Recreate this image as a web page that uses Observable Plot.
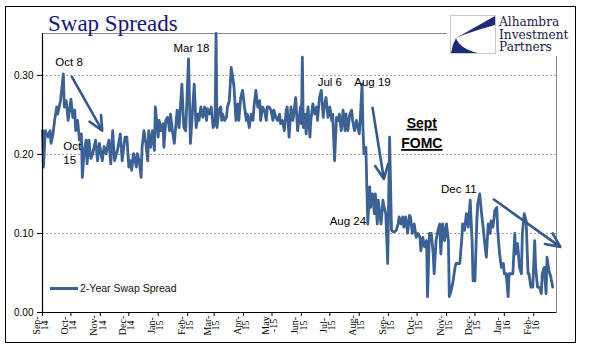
<!DOCTYPE html>
<html><head><meta charset="utf-8">
<script src="https://cdn.jsdelivr.net/npm/d3@7"></script>
<script src="https://cdn.jsdelivr.net/npm/@observablehq/plot@0.6"></script>
<style>
html,body{margin:0;padding:0;background:#fff;}
#wrap{position:relative;width:598px;height:361px;overflow:hidden;background:#fff;}
#chart{position:absolute;left:0;top:0;}
#frame{position:absolute;left:5px;top:6px;width:571px;height:337px;border:1.5px solid #000;box-sizing:border-box;pointer-events:none;}
#title{position:absolute;left:48px;top:12px;font-family:"Liberation Serif","Times New Roman",serif;font-size:23px;line-height:23px;color:#16167a;white-space:nowrap;}
#logo{position:absolute;left:447px;top:11px;width:128px;height:45px;background:#fff;}
#logotext{position:absolute;left:499px;top:16px;font-family:"DejaVu Serif",serif;font-size:12.2px;line-height:12.6px;color:#22224a;white-space:nowrap;}
#legend{position:absolute;left:50px;top:281px;height:14px;font-family:"Liberation Sans",Arial,sans-serif;font-size:10.5px;line-height:14px;color:#111;white-space:nowrap;}
#legend .sw{display:inline-block;width:28px;height:3px;vertical-align:middle;margin-right:2px;position:relative;top:-1px;}
</style></head>
<body>
<div id="wrap">
  <div id="chart"></div>
  <div id="title">Swap Spreads</div>
  <div id="logo"><svg width="128" height="45">
    <rect x="3.5" y="4.5" width="45" height="38" fill="#fff" stroke="#c9c9c9"/>
    <path d="M48 5 L9 27 Q 20 22 48 14 Z" fill="#1d2a78"/>
    <path d="M9 27 Q 5 34 4 42 L 31 42 Q 13 38 9 27 Z" fill="#1d2a78"/>
  </svg></div>
  <div id="logotext">Alhambra<br>Investment<br>Partners</div>
  <div id="legend"></div>
  <div id="frame"></div>
</div>
<script>
// ---- data ----
const seriesName = "2-Year Swap Spread";
const dates = [
"2014-09-01","2014-09-02","2014-09-04","2014-09-07","2014-09-09","2014-09-10","2014-09-12","2014-09-14","2014-09-16","2014-09-17",
"2014-09-20","2014-09-23","2014-09-24","2014-09-26","2014-09-28","2014-10-01","2014-10-03","2014-10-05","2014-10-06","2014-10-08",
"2014-10-10","2014-10-12","2014-10-13","2014-10-15","2014-10-17","2014-10-18","2014-10-20","2014-10-22","2014-10-24","2014-10-27",
"2014-10-29","2014-10-31","2014-11-03","2014-11-05","2014-11-07","2014-11-10","2014-11-12","2014-11-14","2014-11-16","2014-11-19",
"2014-11-22","2014-11-24","2014-11-27","2014-11-29","2014-12-01","2014-12-03","2014-12-04","2014-12-06","2014-12-09","2014-12-10",
"2014-12-12","2014-12-14","2014-12-15","2014-12-17","2014-12-19","2014-12-21","2014-12-22","2014-12-24","2014-12-26","2014-12-28",
"2014-12-29","2015-01-01","2015-01-02","2015-01-04","2015-01-06","2015-01-07","2015-01-09","2015-01-11","2015-01-13","2015-01-14",
"2015-01-16","2015-01-18","2015-01-20","2015-01-21","2015-01-23","2015-01-26","2015-01-28","2015-01-30","2015-02-02","2015-02-04",
"2015-02-06","2015-02-08","2015-02-10","2015-02-12","2015-02-13","2015-02-15","2015-02-17","2015-02-19","2015-02-21","2015-02-22",
"2015-02-24","2015-02-26","2015-02-28","2015-03-02","2015-03-03","2015-03-04","2015-03-06","2015-03-08","2015-03-09","2015-03-10",
"2015-03-12","2015-03-14","2015-03-15","2015-03-17","2015-03-19","2015-03-20","2015-03-22","2015-03-24","2015-03-26","2015-03-27",
"2015-03-29","2015-03-31","2015-04-02","2015-04-04","2015-04-05","2015-04-07","2015-04-09","2015-04-11","2015-04-12","2015-04-14",
"2015-04-16","2015-04-18","2015-04-19","2015-04-21","2015-04-23","2015-04-25","2015-04-26","2015-04-28","2015-04-30","2015-05-02",
"2015-05-03","2015-05-05","2015-05-07","2015-05-09","2015-05-10","2015-05-12","2015-05-14","2015-05-16","2015-05-17","2015-05-19",
"2015-05-21","2015-05-23","2015-05-24","2015-05-26","2015-05-28","2015-05-31","2015-06-01","2015-06-02","2015-06-03","2015-06-05",
"2015-06-06","2015-06-08","2015-06-10","2015-06-11","2015-06-13","2015-06-15","2015-06-17","2015-06-18","2015-06-20","2015-06-22",
"2015-06-24","2015-06-25","2015-06-27","2015-06-29","2015-07-01","2015-07-03","2015-07-04","2015-07-06","2015-07-08","2015-07-10",
"2015-07-11","2015-07-13","2015-07-15","2015-07-17","2015-07-18","2015-07-20","2015-07-22","2015-07-24","2015-07-25","2015-07-27",
"2015-07-29","2015-08-01","2015-08-02","2015-08-04","2015-08-05","2015-08-06","2015-08-08","2015-08-09","2015-08-10","2015-08-12",
"2015-08-13","2015-08-15","2015-08-17","2015-08-18","2015-08-20","2015-08-21","2015-08-24","2015-08-26","2015-08-27","2015-08-29",
"2015-08-31","2015-09-02","2015-09-04","2015-09-06","2015-09-07","2015-09-09","2015-09-11","2015-09-12","2015-09-14","2015-09-16",
"2015-09-17","2015-09-19","2015-09-21","2015-09-23","2015-09-24","2015-09-26","2015-09-28","2015-09-30","2015-10-02","2015-10-04",
"2015-10-05","2015-10-07","2015-10-09","2015-10-11","2015-10-12","2015-10-14","2015-10-16","2015-10-18","2015-10-19","2015-10-21",
"2015-10-23","2015-10-25","2015-10-26","2015-10-28","2015-10-30","2015-11-01","2015-11-03","2015-11-04","2015-11-06","2015-11-08",
"2015-11-10","2015-11-11","2015-11-13","2015-11-15","2015-11-17","2015-11-18","2015-11-20","2015-11-22","2015-11-24","2015-11-26",
"2015-11-28","2015-11-29","2015-12-01","2015-12-03","2015-12-04","2015-12-06","2015-12-08","2015-12-10","2015-12-11","2015-12-13",
"2015-12-15","2015-12-17","2015-12-18","2015-12-20","2015-12-22","2015-12-24","2015-12-25","2015-12-27","2015-12-29","2015-12-31",
"2016-01-01","2016-01-03","2016-01-05","2016-01-06","2016-01-08","2016-01-10","2016-01-12","2016-01-13","2016-01-15","2016-01-17",
"2016-01-19","2016-01-20","2016-01-22","2016-01-24","2016-01-26","2016-01-27","2016-01-29","2016-01-31","2016-02-02","2016-02-03",
"2016-02-05","2016-02-07","2016-02-09","2016-02-10","2016-02-12","2016-02-14","2016-02-15","2016-02-17","2016-02-19","2016-02-21"
];
const spreads = [
0.230,0.184,0.230,0.222,0.230,0.214,0.225,0.245,0.260,0.251,
0.268,0.302,0.260,0.268,0.243,0.270,0.247,0.256,0.230,0.243,
0.218,0.226,0.171,0.205,0.218,0.188,0.218,0.195,0.201,0.218,
0.192,0.214,0.192,0.210,0.201,0.218,0.188,0.230,0.192,0.205,
0.226,0.192,0.222,0.222,0.184,0.192,0.180,0.201,0.184,0.201,
0.192,0.171,0.209,0.230,0.214,0.192,0.230,0.209,0.230,0.205,
0.260,0.222,0.243,0.230,0.239,0.209,0.243,0.247,0.230,0.251,
0.230,0.214,0.243,0.256,0.234,0.289,0.234,0.230,0.321,0.214,
0.251,0.289,0.234,0.251,0.243,0.260,0.247,0.260,0.243,0.258,
0.251,0.260,0.234,0.240,0.353,0.234,0.256,0.260,0.243,0.251,
0.243,0.247,0.260,0.268,0.310,0.302,0.285,0.243,0.264,0.243,
0.272,0.281,0.260,0.243,0.251,0.234,0.251,0.243,0.260,0.281,
0.260,0.268,0.243,0.260,0.256,0.243,0.260,0.260,0.256,0.243,
0.256,0.247,0.243,0.251,0.239,0.243,0.230,0.256,0.260,0.222,
0.260,0.243,0.251,0.272,0.230,0.260,0.239,0.323,0.234,0.251,
0.226,0.260,0.222,0.243,0.264,0.251,0.260,0.243,0.272,0.281,
0.247,0.260,0.272,0.247,0.260,0.243,0.251,0.192,0.247,0.243,
0.251,0.230,0.256,0.230,0.251,0.230,0.251,0.256,0.243,0.230,
0.243,0.226,0.243,0.289,0.230,0.201,0.209,0.159,0.112,0.159,
0.133,0.150,0.125,0.150,0.112,0.142,0.112,0.142,0.134,0.125,
0.062,0.222,0.104,0.102,0.102,0.104,0.112,0.121,0.112,0.121,
0.108,0.121,0.100,0.123,0.121,0.100,0.112,0.095,0.100,0.095,
0.078,0.095,0.083,0.091,0.020,0.100,0.100,0.074,0.049,0.091,
0.104,0.112,0.074,0.112,0.091,0.112,0.091,0.020,0.028,0.040,
0.057,0.062,0.062,0.062,0.091,0.112,0.104,0.125,0.108,0.142,
0.091,0.040,0.040,0.116,0.138,0.150,0.125,0.104,0.091,0.070,
0.112,0.100,0.116,0.108,0.129,0.133,0.104,0.074,0.057,0.062,
0.049,0.049,0.020,0.049,0.049,0.049,0.100,0.074,0.087,0.057,
0.049,0.100,0.125,0.116,0.049,0.049,0.032,0.032,0.091,0.057,
0.032,0.032,0.024,0.049,0.057,0.024,0.070,0.053,0.045,0.032
];
const xDomain = ["2014-09-01","2016-02-25"];
const yMax = 0.353;
const yTicks = [0, 0.1, 0.2, 0.3];
const gridTicks = [0.1, 0.2, 0.3];
const monthTicks = ["2014-09-01","2014-10-01","2014-11-01","2014-12-01","2015-01-01","2015-02-01","2015-03-01","2015-04-01","2015-05-01","2015-06-01","2015-07-01","2015-08-01","2015-09-01","2015-10-01","2015-11-01","2015-12-01","2016-01-01","2016-02-01"];
const monthLabels = ["Sep-\n14","Oct-\n14","Nov-\n14","Dec-\n14","Jan-\n15","Feb-\n15","Mar-\n15","Apr-\n15","May\n-15","Jun-\n15","Jul-\n15","Aug-\n15","Sep-\n15","Oct-\n15","Nov-\n15","Dec-\n15","Jan-\n16","Feb-\n16"];
const noteDates = ["2014-09-29","2015-02-05","2015-07-01","2015-08-15","2015-07-20","2015-11-14"];
const noteValues = [0.316, 0.334, 0.291, 0.291, 0.115, 0.156];
const noteTexts = ["Oct 8","Mar 18","Jul 6","Aug 19","Aug 24","Dec 11"];
const oct15Note = {date: "2014-09-23", value: 0.202, text: "Oct\n15"};
const fomcNote = {date: "2015-10-06", value: 0.229, text: "Sept\nFOMC"};
const arrowStartDates = ["2014-10-02","2015-08-15","2015-12-21"];
const arrowStartValues = [0.298, 0.259, 0.143];
const arrowEndDates = ["2014-11-03","2015-08-27","2016-02-29"];
const arrowEndValues = [0.230, 0.169, 0.083];

// ---- build ----
const P = s => new Date(s + "T00:00:00Z");
const series = dates.map((d, i) => ({date: P(d), value: spreads[i]}));
const ticks = monthTicks.map((d, i) => ({date: P(d), label: monthLabels[i]}));
const notes = noteDates.map((d, i) => ({date: P(d), value: noteValues[i], text: noteTexts[i]}));
const arrows = arrowStartDates.map((d, i) => ({x1: P(d), y1: arrowStartValues[i], x2: P(arrowEndDates[i]), y2: arrowEndValues[i]}));
const lineColor = "#3c6195";
const arrowColor = "#345a8e";

const chart = Plot.plot({
  width: 598, height: 361,
  marginLeft: 42, marginRight: 42, marginTop: 33, marginBottom: 49,
  x: {type: "utc", domain: xDomain.map(P)},
  y: {domain: [0, yMax]},
  style: {fontFamily: "'Liberation Sans', Arial, sans-serif", fontSize: "10px", background: "transparent", overflow: "visible", color: "#000"},
  marks: [
    Plot.frame({stroke: "#8a8a8a"}),
    Plot.ruleY(gridTicks, {stroke: "#a0a0a0", strokeDasharray: "2,2"}),
    Plot.axisY({ticks: yTicks, tickFormat: d3.format(".2f"), tickSize: 5, tickPadding: 4, label: null, fontSize: 10}),
    Plot.axisX({ticks: monthTicks.map(P), tickSize: 4, tickFormat: () => "", label: null}),
    Plot.text(ticks, {x: "date", text: "label", frameAnchor: "bottom", rotate: -90, textAnchor: "middle", lineAnchor: "middle", dy: 13, dx: -1.5, fontSize: 10, lineHeight: 0.82, fontFamily: "'Liberation Serif', 'Times New Roman', serif"}),
    Plot.line(series, {x: "date", y: "value", stroke: lineColor, strokeWidth: 2.8}),
    Plot.ruleY([0], {stroke: "#000", strokeWidth: 1.2}),
    Plot.ruleX([P(xDomain[0])], {stroke: "#000", strokeWidth: 1.2}),
    Plot.text(notes, {x: "date", y: "value", text: "text", fontSize: 11.5, fill: "#000"}),
    Plot.text([oct15Note], {x: d => P(d.date), y: "value", text: "text", textAnchor: "start", fontSize: 11.5, lineHeight: 1.15, fill: "#000"}),
    Plot.text([fomcNote], {x: d => P(d.date), y: "value", text: "text", fontSize: 14, fontWeight: "bold", lineHeight: 1.45, fill: "#000"}),
    Plot.arrow(arrows, {x1: "x1", y1: "y1", x2: "x2", y2: "y2", stroke: arrowColor, strokeWidth: 2.6, headLength: 9, headAngle: 50})
  ]
});
document.getElementById("chart").appendChild(chart);
chart.querySelectorAll("text").forEach(t => {
  if (t.textContent.includes("FOMC")) {
    t.style.textDecoration = "underline";
    t.querySelectorAll("tspan").forEach(s => s.style.textDecoration = "underline");
  }
});
const lg = document.getElementById("legend");
lg.innerHTML = `<span class="sw" style="background:${lineColor}"></span>${seriesName}`;
</script>
</body></html>
